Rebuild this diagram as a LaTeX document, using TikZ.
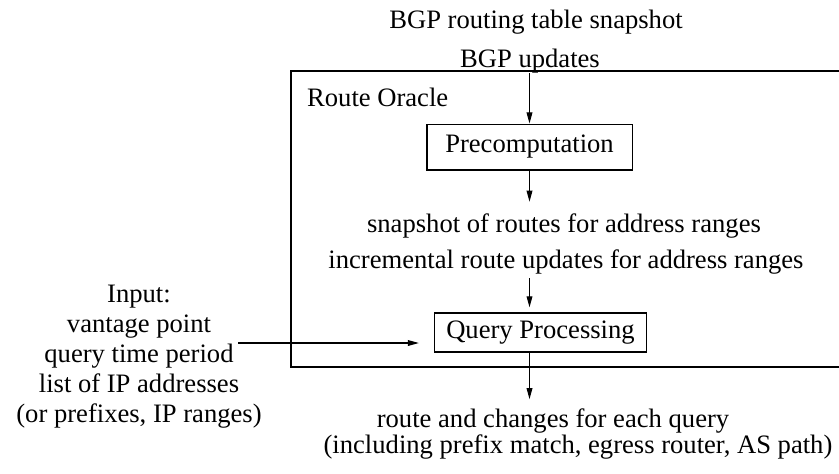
\documentclass[tikz,border=0pt]{standalone}
\usepackage{fontspec}
\setmainfont{Liberation Serif}
\usepackage{tikz}
\usetikzlibrary{arrows.meta}

\begin{document}
\begin{tikzpicture}[
    x=0.451pt, y=-0.451pt,
    font=\fontsize{12}{13.6}\selectfont,
    frame/.style={rectangle, draw=black, line width=0.5pt, minimum width=256.6pt, minimum height=133.5pt},
    process/.style={rectangle, draw=black, line width=0.5pt, inner sep=0pt, text centered},
    label/.style={inner sep=0pt, anchor=base},
    arrow/.style={line width=0.5pt, -{Triangle[length=5pt, width=2.6pt]}}
]
\useasboundingbox (0,0) rectangle (839,473);

% Nodes
\node (oracle) [frame] at (575.5,219) {};
\node (title) [label, anchor=base west] at (306.7,106) {Route Oracle};
\node (table) [label] at (536,28.5) {BGP routing table snapshot};
\node (upd) [label] at (530,67) {BGP updates};
\node (pre) [process, minimum width=92.5pt, minimum height=20.7pt] at (529.5,147) {Precomputation};
\node (snap) [label] at (564,232) {snapshot of routes for address ranges};
\node (incr) [label] at (566,268) {incremental route updates for address ranges};
\node (qp) [process, minimum width=95.6pt, minimum height=17.6pt] at (540.5,332.5) {Query Processing};
\node (input) [inner sep=0pt, align=center] at (139,356.6) {Input:\\vantage point\\query time period\\list of IP addresses\\(or prefixes, IP ranges)};
\node (out1) [label] at (553,427) {route and changes for each query};
\node (out2) [label] at (578,453) {(including prefix match, egress router, AS path)};
\coordinate (src) at (238,343);

% Arrows
\draw [arrow] (upd.south -| pre.north) -- (pre.north);
\draw [arrow, shorten >=5pt] (pre.south) -- (snap.north -| pre.south);
\draw [arrow, shorten <=1.9pt, shorten >=2.3pt] (incr.south -| pre.south) -- (qp.north -| pre.south);
\draw [arrow, shorten >=3.9pt] (qp.south -| pre.south) -- (out1.north -| pre.south);
\draw [arrow, shorten >=6.8pt] (src) -- (src -| qp.west);

\end{tikzpicture}
\end{document}
